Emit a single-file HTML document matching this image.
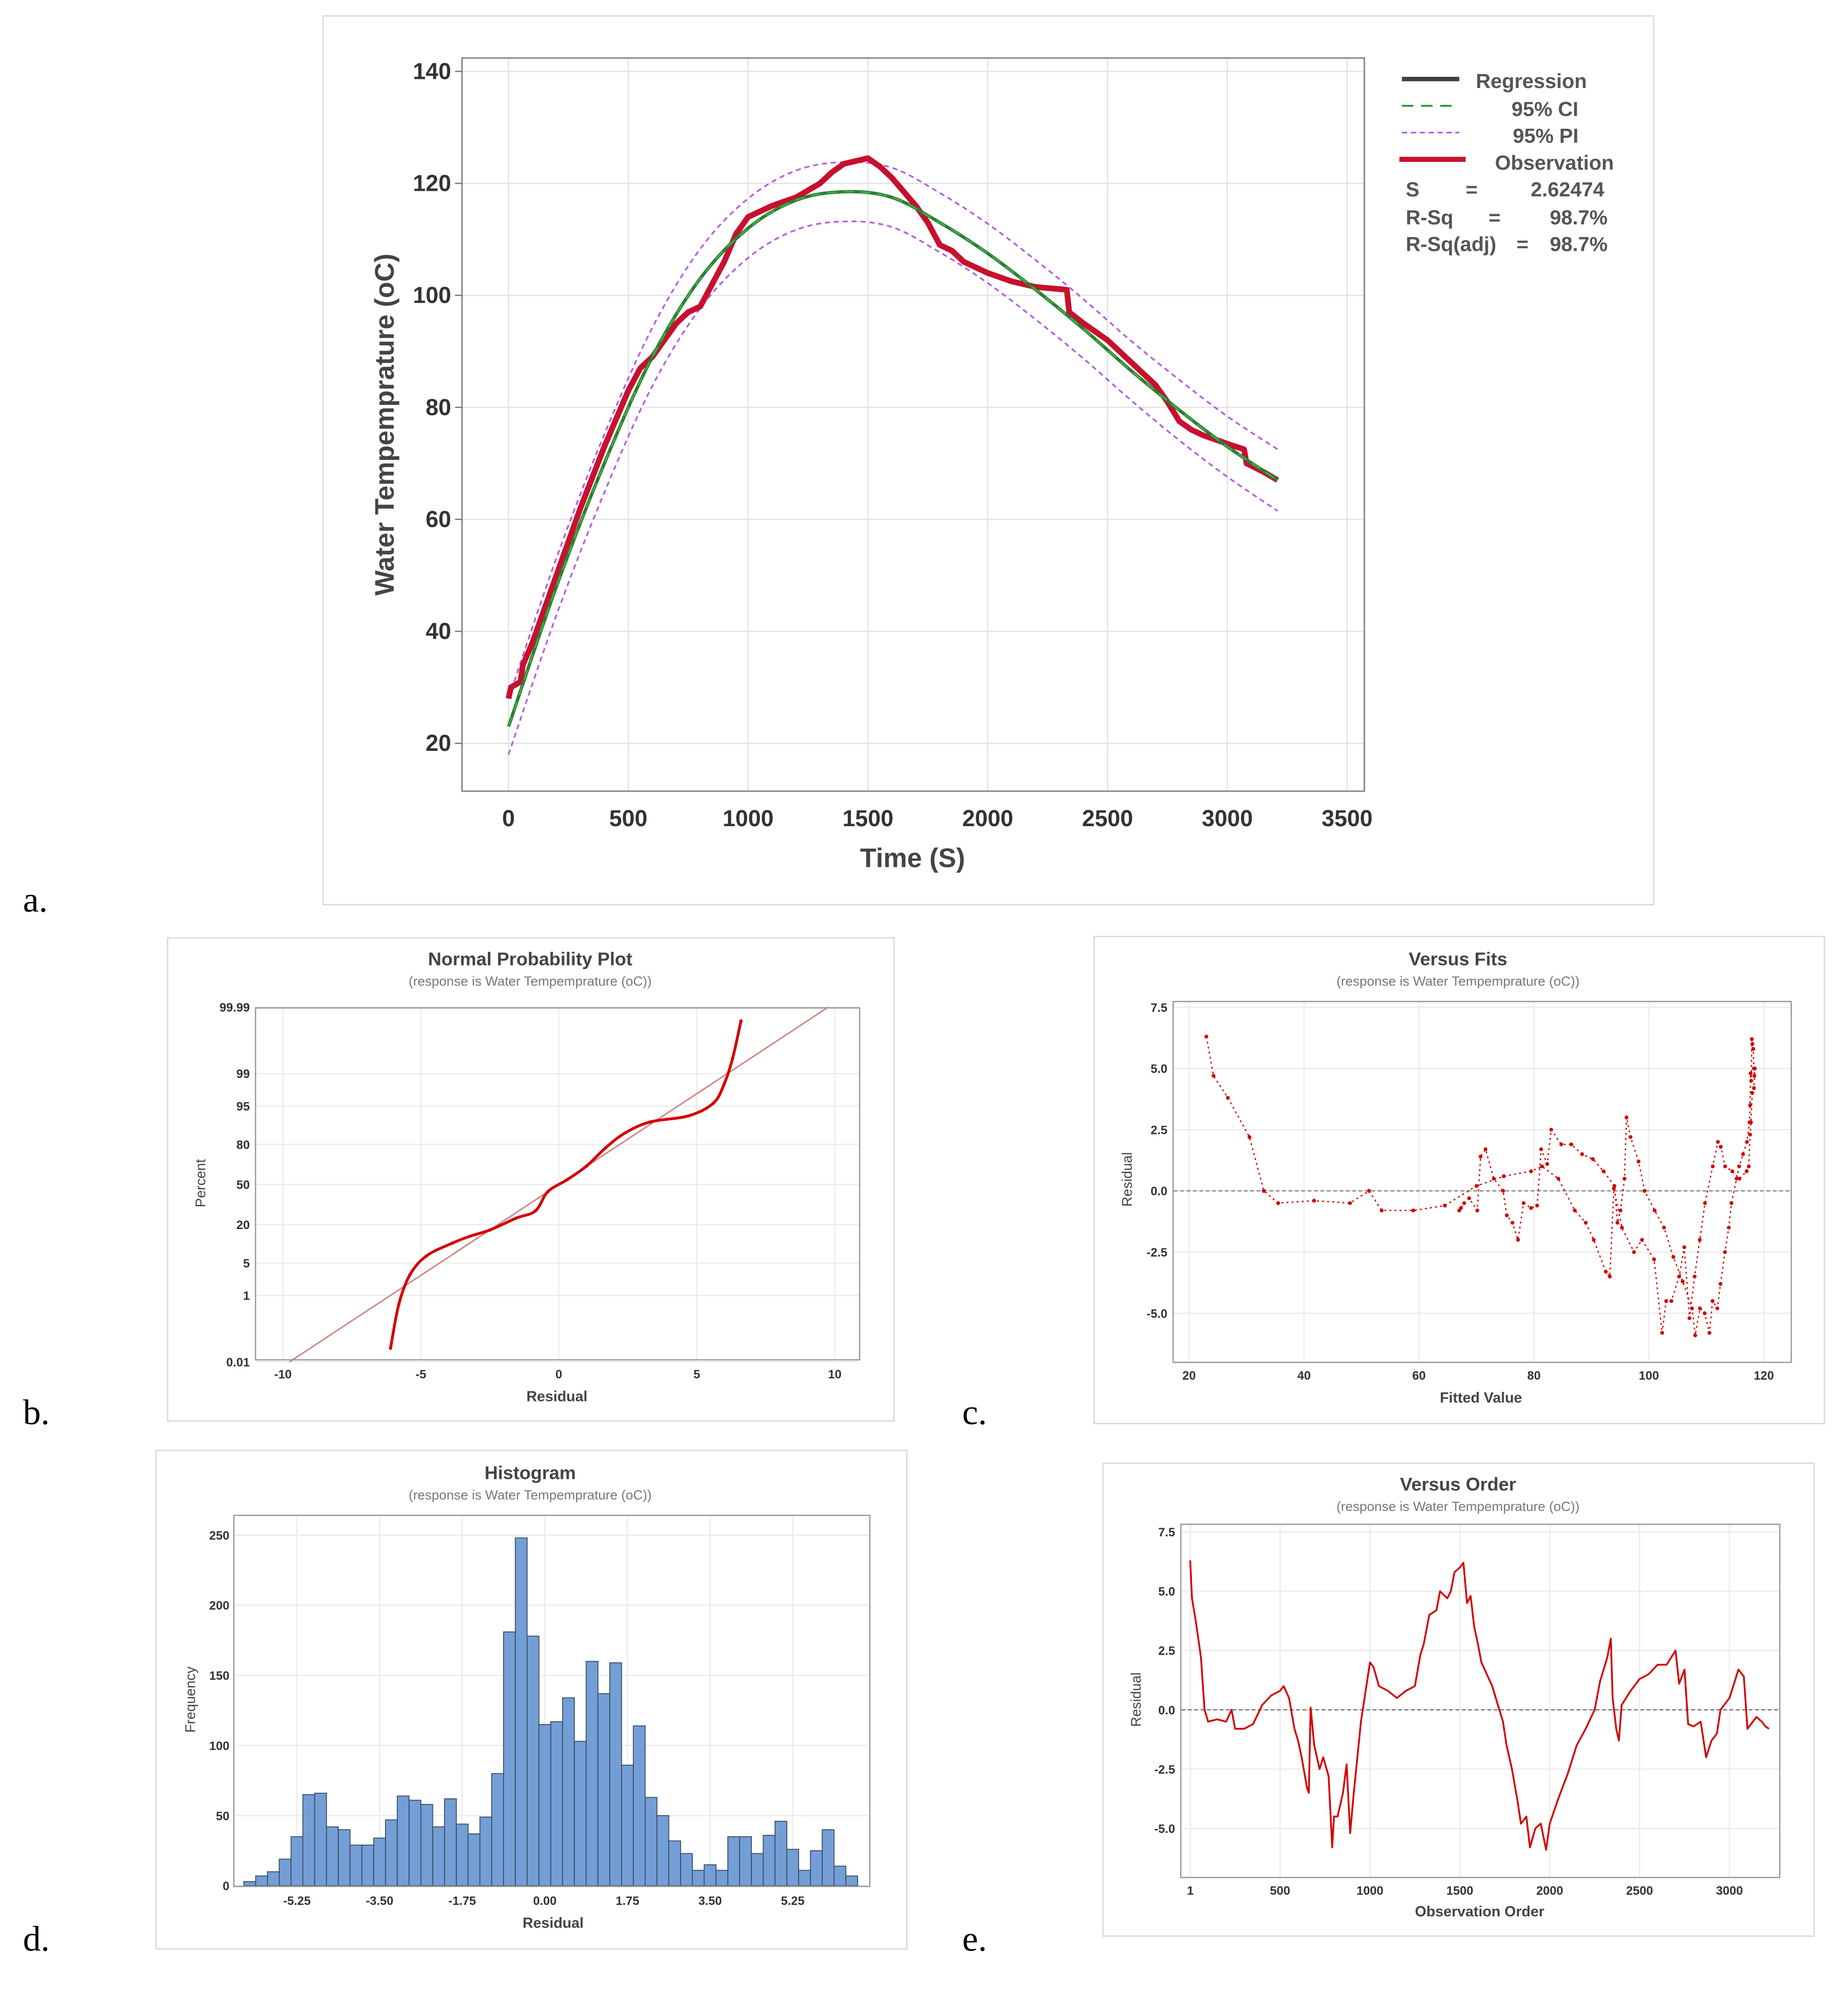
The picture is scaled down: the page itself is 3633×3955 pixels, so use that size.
<!DOCTYPE html>
<html><head><meta charset="utf-8">
<style>
html,body{margin:0;padding:0;background:#fff;}
svg{display:block;font-family:"Liberation Sans",sans-serif;}
</style></head>
<body>
<svg id="root" width="3633" height="3955" viewBox="0 0 1450 1578" preserveAspectRatio="none" xmlns="http://www.w3.org/2000/svg">
<rect x="0" y="0" width="1450" height="1578" fill="#fff"/>
<!-- panel frames -->
<rect x="253.5" y="12.5" width="1044" height="697" fill="none" stroke="#d8d8d8"/>
<rect x="131.5" y="735.5" width="570" height="379" fill="none" stroke="#d8d8d8"/>
<rect x="858.5" y="734.5" width="573" height="382" fill="none" stroke="#d8d8d8"/>
<rect x="122.5" y="1137.5" width="589" height="391" fill="none" stroke="#d8d8d8"/>
<rect x="865.5" y="1147.5" width="558" height="371" fill="none" stroke="#d8d8d8"/>
<g font-family="Liberation Serif,serif" font-size="28" fill="#000">
<text x="18" y="715">a.</text>
<text x="18" y="1117">b.</text>
<text x="755" y="1117">c.</text>
<text x="18" y="1530">d.</text>
<text x="755" y="1530">e.</text>
</g>
<g id="ga"></g><g id="gb"></g><g id="gc"></g><g id="gd"></g><g id="ge"></g>
<!-- legend a -->
<g font-size="16" fill="#555" font-weight="bold">
<line x1="1100" y1="62" x2="1145" y2="62" stroke="#404040" stroke-width="3.5"/>
<text x="1158" y="69">Regression</text>
<line x1="1100" y1="83" x2="1145" y2="83" stroke="#2a9a3a" stroke-width="1.5" stroke-dasharray="9,6"/>
<text x="1186" y="91">95% CI</text>
<line x1="1100" y1="104" x2="1145" y2="104" stroke="#b45ae0" stroke-width="1.3" stroke-dasharray="4,3"/>
<text x="1187" y="112">95% PI</text>
<line x1="1098" y1="125" x2="1150" y2="125" stroke="#c8102e" stroke-width="4"/>
<text x="1173" y="133">Observation</text>
<text x="1103" y="154">S</text><text x="1150" y="154">=</text><text x="1201" y="154">2.62474</text>
<text x="1103" y="176">R-Sq</text><text x="1168" y="176">=</text><text x="1216" y="176">98.7%</text>
<text x="1103" y="197">R-Sq(adj)</text><text x="1190" y="197">=</text><text x="1216" y="197">98.7%</text>
</g>
</svg>
<script>
// ---------- DATA ----------
const FIT_T = [0,200,400,600,800,1000,1200,1400,1600,1800,2000,2200,2400,2600,2800,3000,3210];
const FIT_V = [23,48,70,89,103,112,117,118.5,117.5,113,107.5,101,94,86.5,79.5,73,67];
const PI_HALF = [5,5.1,5.2,5.2,5.3,5.3,5.3,5.3,5.3,5.3,5.3,5.3,5.3,5.3,5.4,5.4,5.5];
const OBS_T = [0,10,50,60,100,150,200,250,300,400,500,550,600,650,700,750,800,850,900,950,1000,1100,1200,1300,1350,1400,1450,1500,1550,1600,1700,1750,1800,1850,1900,2000,2100,2200,2330,2340,2400,2500,2600,2700,2750,2800,2850,2900,3000,3070,3080,3150,3210];
const OBS_V = [28,30,31,34,38,44,50,56,62,73,83,87,89,92,95,97,98,102,106,111,114,116,117.5,120,122,123.5,124,124.5,123,121,116,113,109,108,106,104,102.5,101.5,101,97,95,92,88,84,81,77.5,76,75,73.5,72.5,70,68.5,67];
const XT_A = [0,500,1000,1500,2000,2500,3000,3500];
const YT_A = [20,40,60,80,100,120,140];

const NPP_RES = [-6.1,-5.8,-5.4,-4.8,-3.85,-3.2,-2.5,-1.55,-0.85,-0.4,0.3,1.0,1.7,2.4,3.3,4.7,5.6,6.0,6.3,6.6];
const NPP_PCT = [0.03,0.6,2.9,6.7,11,14,17,24,29,44,54,65,78,86,90.5,92.5,95.6,98.3,99.6,99.97];
const XT_B = [-10,-5,0,5,10];
const YT_B = [0.01,1,5,20,50,80,95,99,99.99];
const YT_B_LBL = ["0.01","1","5","20","50","80","95","99","99.99"];

const ORD = [0,10,30,60,80,100,150,200,230,250,300,350,400,450,500,520,550,580,600,620,650,660,670,690,720,740,770,790,800,820,850,870,890,910,930,950,980,1000,1020,1050,1100,1150,1200,1250,1280,1300,1330,1370,1390,1430,1450,1470,1500,1520,1540,1560,1580,1600,1620,1650,1680,1700,1740,1760,1790,1820,1840,1870,1890,1920,1950,1980,2000,2050,2100,2150,2200,2250,2280,2320,2340,2350,2370,2385,2400,2450,2500,2550,2600,2650,2700,2720,2750,2770,2800,2840,2870,2900,2930,2950,3000,3050,3080,3100,3150,3180,3200,3220];
const RES = [6.3,4.7,3.8,2.2,0.0,-0.5,-0.4,-0.5,0.0,-0.8,-0.8,-0.6,0.2,0.6,0.8,1.0,0.5,-0.8,-1.3,-2.0,-3.3,-3.5,0.1,-1.5,-2.5,-2.0,-2.8,-5.8,-4.5,-4.5,-3.5,-2.3,-5.2,-3.5,-2.0,-0.5,1.0,2.0,1.8,1.0,0.8,0.5,0.8,1.0,2.3,2.8,4.0,4.2,5.0,4.7,5.0,5.8,6.0,6.2,4.5,4.8,3.5,2.8,2.0,1.5,1.0,0.5,-0.5,-1.5,-2.5,-3.8,-4.8,-4.5,-5.8,-5.0,-4.8,-5.9,-4.8,-3.7,-2.7,-1.5,-0.8,0.0,1.2,2.2,3.0,0.5,-0.8,-1.3,0.2,0.8,1.3,1.5,1.9,1.9,2.5,1.1,1.7,-0.6,-0.7,-0.5,-2.0,-1.3,-1.0,0.0,0.5,1.7,1.4,-0.8,-0.3,-0.5,-0.7,-0.8];
const XT_C = [20,40,60,80,100,120];
const YT_RES = [-5.0,-2.5,0.0,2.5,5.0,7.5];
const XT_E = [1,500,1000,1500,2000,2500,3000];

const HIST_START = -6.375, HIST_W = 0.25;
const HIST_COUNTS = [3,7,10,19,35,65,66,42,40,29,29,34,47,64,61,58,42,62,44,37,49,80,181,248,178,115,117,134,103,160,137,159,86,114,63,50,32,23,11,15,11,35,35,23,36,46,26,11,25,40,14,7];
const XT_D = [-5.25,-3.5,-1.75,0,1.75,3.5,5.25];
const XT_D_LBL = ["-5.25","-3.50","-1.75","0.00","1.75","3.50","5.25"];
const YT_D = [0,50,100,150,200,250];

// ---------- helpers ----------
const NS = "http://www.w3.org/2000/svg";
function mk(parent, tag, attrs, txt){const e=document.createElementNS(NS,tag);for(const k in attrs)e.setAttribute(k,attrs[k]);if(txt!==undefined)e.textContent=txt;parent.appendChild(e);return e;}
function lin(d0,d1,r0,r1){return v=>r0+(v-d0)*(r1-r0)/(d1-d0);}
function interp(xs,ys,x){if(x<=xs[0])return ys[0];for(let i=1;i<xs.length;i++){if(x<=xs[i]){const f=(x-xs[i-1])/(xs[i]-xs[i-1]);return ys[i-1]+f*(ys[i]-ys[i-1]);}}return ys[ys.length-1];}
function erf(x){const s=x<0?-1:1;x=Math.abs(x);const t=1/(1+0.3275911*x);const y=1-(((((1.061405429*t-1.453152027)*t)+1.421413741)*t-0.284496736)*t+0.254829592)*t*Math.exp(-x*x);return s*y;}
function invNorm(p){let lo=-6,hi=6;for(let i=0;i<60;i++){const m=(lo+hi)/2;const c=0.5*(1+erf(m/Math.SQRT2));if(c<p)lo=m;else hi=m;}return (lo+hi)/2;}
function smoothPath(pts){let d="M"+pts[0][0].toFixed(2)+","+pts[0][1].toFixed(2);for(let i=1;i<pts.length;i++)d+="L"+pts[i][0].toFixed(2)+","+pts[i][1].toFixed(2);return d;}
// catmull-rom densify for smooth curves
function crPath(pts){let d="M"+pts[0][0]+","+pts[0][1];for(let i=0;i<pts.length-1;i++){const p0=pts[Math.max(0,i-1)],p1=pts[i],p2=pts[i+1],p3=pts[Math.min(pts.length-1,i+2)];const c1=[p1[0]+(p2[0]-p0[0])/6,p1[1]+(p2[1]-p0[1])/6],c2=[p2[0]-(p3[0]-p1[0])/6,p2[1]-(p3[1]-p1[1])/6];d+="C"+c1[0].toFixed(2)+","+c1[1].toFixed(2)+" "+c2[0].toFixed(2)+","+c2[1].toFixed(2)+" "+p2[0].toFixed(2)+","+p2[1].toFixed(2);}return d;}

// ---------- Panel a ----------
(function(){
const g=document.getElementById('ga');
const X=lin(0,3500,399,1057), Y=lin(20,140,583,56);
let e;
XT_A.forEach(t=>{e=mk(g,'line',{x1:X(t),x2:X(t),y1:46,y2:620,stroke:'#e3e3e3','stroke-width':1});


e=mk(g,'text',{x:X(t),y:648,'text-anchor':'middle','font-size':18,'font-weight':'bold',fill:'#333'},t);

});
YT_A.forEach(t=>{e=mk(g,'line',{x1:363,x2:1070,y1:Y(t),y2:Y(t),stroke:'#e3e3e3','stroke-width':1});


e=mk(g,'text',{x:354,y:Y(t)+6,'text-anchor':'end','font-size':18,'font-weight':'bold',fill:'#333'},t);


e=mk(g,'line',{x1:357,x2:362,y1:Y(t),y2:Y(t),stroke:'#777'});

});
e=mk(g,'rect',{x:362.5,y:45.5,width:708,height:575,fill:'none',stroke:'#888','stroke-width':1.2});


e=mk(g,'text',{x:716,y:680,'text-anchor':'middle','font-size':21,'font-weight':'bold',fill:'#444'},'Time (S)');


e=mk(g,'text',{x:0,y:0,transform:'translate(309,333) rotate(-90)','text-anchor':'middle','font-size':21,'font-weight':'bold',fill:'#444'},'Water Tempemprature (oC)');


const up=FIT_T.map((t,i)=>[X(t),Y(FIT_V[i]+PI_HALF[i])]);
const lo=FIT_T.map((t,i)=>[X(t),Y(FIT_V[i]-PI_HALF[i])]);
e=mk(g,'path',{d:crPath(up),fill:'none',stroke:'#b45ae0','stroke-width':1.3,'stroke-dasharray':'4,3'});


e=mk(g,'path',{d:crPath(lo),fill:'none',stroke:'#b45ae0','stroke-width':1.3,'stroke-dasharray':'4,3'});


const obs=OBS_T.map((t,i)=>[X(t),Y(OBS_V[i])]);
e=mk(g,'path',{d:smoothPath(obs),fill:'none',stroke:'#c8102e','stroke-width':4.5,'stroke-linejoin':'round'});


const fit=FIT_T.map((t,i)=>[X(t),Y(FIT_V[i])]);
e=mk(g,'path',{d:crPath(fit),fill:'none',stroke:'#2e7d32','stroke-width':2.6});


e=mk(g,'path',{d:crPath(fit),fill:'none',stroke:'#3cb04a','stroke-width':1.2,'stroke-dasharray':'8,5'});


})();

function panelTitles(g,cx,ty,title,sub){
let e=mk(g,'text',{x:cx,y:ty,'text-anchor':'middle','font-size':14.5,'font-weight':'bold',fill:'#444'},title);


e=mk(g,'text',{x:cx,y:ty+16,'text-anchor':'middle','font-size':10.5,fill:'#777'},sub);


}
const SUB='(response is Water Tempemprature (oC))';

// ---------- Panel b ----------
(function(){
const g=document.getElementById('gb');
const X=lin(-10,10,222,655); const Yz=z=>929-37.4*z; const Y=p=>Yz(invNorm(p/100));
let e;
panelTitles(g,416,757,'Normal Probability Plot',SUB);
XT_B.forEach(t=>{e=mk(g,'line',{x1:X(t),x2:X(t),y1:791,y2:1066,stroke:'#ececec'});


e=mk(g,'text',{x:X(t),y:1081,'text-anchor':'middle','font-size':9.5,'font-weight':'bold',fill:'#333'},t);

});
YT_B.forEach((p,i)=>{const y=Y(p);e=mk(g,'line',{x1:201,x2:675,y1:y,y2:y,stroke:'#ececec'});


e=mk(g,'text',{x:196,y:y+3.5,'text-anchor':'end','font-size':9.5,'font-weight':'bold',fill:'#333'},YT_B_LBL[i]);

});
e=mk(g,'rect',{x:200.5,y:790.5,width:474,height:276,fill:'none',stroke:'#999'});


e=mk(g,'text',{x:437,y:1099,'text-anchor':'middle','font-size':11.5,'font-weight':'bold',fill:'#444'},'Residual');


e=mk(g,'text',{x:0,y:0,transform:'translate(161,928) rotate(-90)','text-anchor':'middle','font-size':11,fill:'#444'},'Percent');


const S=2.62474, z0=invNorm(0.0001), z1=invNorm(0.9999);
e=mk(g,'line',{x1:X(S*z0),y1:Yz(z0),x2:X(S*z1),y2:Yz(z1),stroke:'#d08080','stroke-width':1.1});


const pts=NPP_RES.map((r,i)=>[X(r),Y(NPP_PCT[i])]);
e=mk(g,'path',{d:crPath(pts),fill:'none',stroke:'#d40000','stroke-width':2.2});


pts.forEach(p=>{e=mk(g,'circle',{cx:p[0],cy:p[1],r:1.3,fill:'#d40000'});

});
})();

// ---------- Panel c ----------
(function(){
const g=document.getElementById('gc');
const X=lin(20,120,933,1384), Y=lin(0,5,934,838);
let e;
panelTitles(g,1144,757,'Versus Fits',SUB);
XT_C.forEach(t=>{e=mk(g,'line',{x1:X(t),x2:X(t),y1:786,y2:1068,stroke:'#ececec'});


e=mk(g,'text',{x:X(t),y:1082,'text-anchor':'middle','font-size':9.5,'font-weight':'bold',fill:'#333'},t);

});
YT_RES.forEach(t=>{e=mk(g,'line',{x1:921,x2:1405,y1:Y(t),y2:Y(t),stroke:'#ececec'});


e=mk(g,'text',{x:916,y:Y(t)+3.5,'text-anchor':'end','font-size':9.5,'font-weight':'bold',fill:'#333'},t.toFixed(1));

});
e=mk(g,'rect',{x:920.5,y:785.5,width:485,height:283,fill:'none',stroke:'#999'});


e=mk(g,'line',{x1:921,x2:1405,y1:Y(0),y2:Y(0),stroke:'#888','stroke-dasharray':'3,2'});


e=mk(g,'text',{x:1162,y:1100,'text-anchor':'middle','font-size':11.5,'font-weight':'bold',fill:'#444'},'Fitted Value');


e=mk(g,'text',{x:0,y:0,transform:'translate(888,925) rotate(-90)','text-anchor':'middle','font-size':11,fill:'#444'},'Residual');


ORD.forEach((o,i)=>{const fv=interp(FIT_T,FIT_V,o);
e=mk(g,'circle',{cx:X(fv),cy:Y(RES[i]),r:1.5,fill:'#d40000'});

});
const pts=ORD.map((o,i)=>[X(interp(FIT_T,FIT_V,o)),Y(RES[i])]);
e=mk(g,'path',{d:smoothPath(pts),fill:'none',stroke:'#d40000','stroke-width':1,'stroke-dasharray':'1.5,2.5'});


})();

// ---------- Panel d ----------
(function(){
const g=document.getElementById('gd');
const X=lin(-5.25,5.25,233,622), Y=lin(0,250,1479,1204);
let e;
panelTitles(g,416,1160,'Histogram',SUB);
XT_D.forEach((t,i)=>{e=mk(g,'line',{x1:X(t),x2:X(t),y1:1189,y2:1480,stroke:'#ececec'});


e=mk(g,'text',{x:X(t),y:1494,'text-anchor':'middle','font-size':9.5,'font-weight':'bold',fill:'#333'},XT_D_LBL[i]);

});
YT_D.forEach(t=>{e=mk(g,'line',{x1:184,x2:683,y1:Y(t),y2:Y(t),stroke:'#ececec'});


e=mk(g,'text',{x:180,y:Y(t)+3.5,'text-anchor':'end','font-size':9.5,'font-weight':'bold',fill:'#333'},t);

});
HIST_COUNTS.forEach((c,i)=>{const x0=X(HIST_START+i*HIST_W),x1=X(HIST_START+(i+1)*HIST_W);
e=mk(g,'rect',{x:x0,y:Y(c),width:x1-x0,height:Y(0)-Y(c),fill:'#739fd6',stroke:'#3b4a63','stroke-width':0.7});

});
e=mk(g,'rect',{x:183.5,y:1188.5,width:499,height:291,fill:'none',stroke:'#999'});


e=mk(g,'text',{x:434,y:1512,'text-anchor':'middle','font-size':11.5,'font-weight':'bold',fill:'#444'},'Residual');


e=mk(g,'text',{x:0,y:0,transform:'translate(153,1333) rotate(-90)','text-anchor':'middle','font-size':11,fill:'#444'},'Frequency');


})();

// ---------- Panel e ----------
(function(){
const g=document.getElementById('ge');
const X=lin(1,3000,934,1357), Y=lin(0,5,1341,1248);
let e;
panelTitles(g,1144,1169,'Versus Order',SUB);
XT_E.forEach(t=>{e=mk(g,'line',{x1:X(t),x2:X(t),y1:1196,y2:1473,stroke:'#ececec'});


e=mk(g,'text',{x:X(t),y:1486,'text-anchor':'middle','font-size':9.5,'font-weight':'bold',fill:'#333'},t);

});
YT_RES.forEach(t=>{e=mk(g,'line',{x1:927,x2:1397,y1:Y(t),y2:Y(t),stroke:'#ececec'});


e=mk(g,'text',{x:922,y:Y(t)+3.5,'text-anchor':'end','font-size':9.5,'font-weight':'bold',fill:'#333'},t.toFixed(1));

});
e=mk(g,'rect',{x:926.5,y:1195.5,width:470,height:277,fill:'none',stroke:'#999'});


e=mk(g,'line',{x1:927,x2:1397,y1:Y(0),y2:Y(0),stroke:'#777','stroke-dasharray':'3,2'});


const pts=ORD.map((o,i)=>[X(o),Y(RES[i])]);
e=mk(g,'path',{d:smoothPath(pts),fill:'none',stroke:'#d40000','stroke-width':1.4,'stroke-linejoin':'round'});


e=mk(g,'text',{x:1161,y:1503,'text-anchor':'middle','font-size':11.5,'font-weight':'bold',fill:'#444'},'Observation Order');


e=mk(g,'text',{x:0,y:0,transform:'translate(895,1333) rotate(-90)','text-anchor':'middle','font-size':11,fill:'#444'},'Residual');


})();
</script>
</body></html>
